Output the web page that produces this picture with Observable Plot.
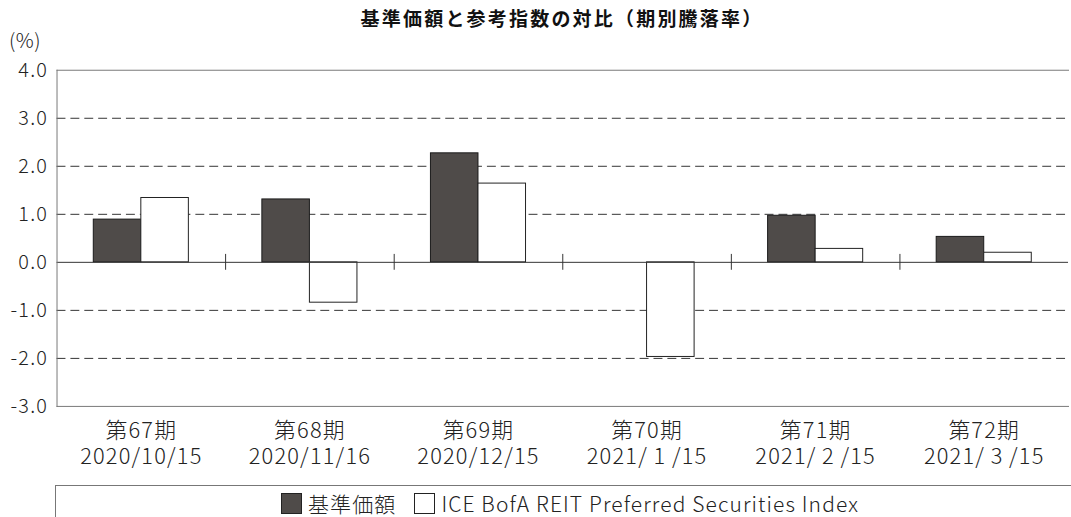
<!DOCTYPE html>
<html>
<head>
<meta charset="utf-8">
<script src="https://cdn.jsdelivr.net/npm/d3@7"></script>
<script src="https://cdn.jsdelivr.net/npm/@observablehq/plot@0.6"></script>
<style>
  html, body { margin: 0; padding: 0; overflow: hidden; background: #fff; }
  body { width: 1071px; height: 517px; position: relative; font-family: "Noto Sans CJK JP", "Noto Sans", sans-serif; color: #222; }
  #title { position: absolute; left: 0; top: 5px; width: 1124px; text-align: center; font-size: 19px; font-weight: bold; letter-spacing: 2.2px; line-height: 26px; color: #111; z-index: 2; }
  #unit { position: absolute; left: 9px; top: 27px; font-size: 20px; line-height: 26px; letter-spacing: 0.5px; z-index: 2; font-weight: 300; }
  #chart { position: absolute; left: 0; top: 40px; z-index: 1; }
  #chart svg { background: transparent !important; }
  #chart g[aria-label="text"] text { letter-spacing: 1.2px; font-weight: 300; }
  #chart g[aria-label="y-axis tick label"] text { letter-spacing: 1.2px; font-weight: 300; }
  #legend { position: absolute; left: 55px; top: 485px; width: 1030px; height: 50px; border: 1px solid #777; box-sizing: border-box; display: flex; justify-content: center; padding-top: 4px; font-size: 21px; line-height: 26px; letter-spacing: 1.1px; font-weight: 300; }
  .item { display: flex; align-items: center; height: 26px; }
  .sw { width: 21px; height: 21px; border: 1px solid #222; margin-right: 6px; box-sizing: border-box; }
</style>
</head>
<body>
<div id="title">基準価額と参考指数の対比（期別騰落率）</div>
<div id="unit">(%)</div>
<div id="chart"></div>
<div id="legend"></div>
<script>
const periods = ["第67期", "第68期", "第69期", "第70期", "第71期", "第72期"];
const dates = ["2020/10/15", "2020/11/16", "2020/12/15", "2021/\u20091\u2009/15", "2021/\u20092\u2009/15", "2021/\u20093\u2009/15"];
const fundReturns = [0.89, 1.31, 2.27, 0.00, 0.97, 0.53];
const indexReturns = [1.34, -0.84, 1.64, -1.97, 0.28, 0.20];
const yTicks = [-3, -2, -1, 0, 1, 2, 3, 4];
const gridValues = [-2, -1, 1, 2, 3];
const seriesNames = ["基準価額", "ICE BofA REIT Preferred Securities Index"];
const seriesColors = ["#4f4b49", "#ffffff"];

const width = 1080, marginLeft = 57, marginRight = 3;
const band = (width - marginLeft - marginRight) / periods.length;
const barW = band * 0.282;
const outer = band / 2 - barW;

const fundData = periods.map((p, i) => ({period: p, value: fundReturns[i]}));
const indexData = periods.map((p, i) => ({period: p, value: indexReturns[i]}));
const labelData = periods.map((p, i) => ({period: p, label: p + "\n" + dates[i]}));

const chart = Plot.plot({
  width,
  height: 438,
  marginLeft,
  marginRight,
  marginTop: 30,
  marginBottom: 69,
  style: {fontFamily: '"Noto Sans CJK JP", "Noto Sans", sans-serif', color: "#222", background: "transparent"},
  x: {domain: periods, padding: 0, axis: null},
  y: {domain: [-3, 4], axis: null},
  marks: [
    Plot.ruleY(gridValues, {stroke: "#333", strokeWidth: 1, strokeDasharray: "9,5"}),
    Plot.barY(fundData, {x: "period", y: "value", fill: seriesColors[0], stroke: "#1a1a1a", strokeWidth: 1, insetLeft: outer, insetRight: band / 2}),
    Plot.barY(indexData, {x: "period", y: "value", fill: seriesColors[1], stroke: "#222", strokeWidth: 1, insetLeft: band / 2, insetRight: outer}),
    Plot.ruleY([0], {stroke: "#333", strokeWidth: 1}),
    Plot.ruleX(periods.slice(1), {x: d => d, y1: 0, y2: 0, insetTop: -8, insetBottom: -8, dx: -band / 2, stroke: "#333"}),
    Plot.frame({anchor: "top", stroke: "#777"}),
    Plot.frame({anchor: "bottom", stroke: "#777"}),
    Plot.frame({anchor: "left", stroke: "#777"}),
    Plot.axisY(yTicks, {label: null, tickSize: 0, tickPadding: 9, fontSize: 20, tickFormat: d => d.toFixed(1), fill: "#222"}),
    Plot.text(labelData, {x: "period", text: "label", frameAnchor: "bottom", lineAnchor: "top", dy: 13, lineHeight: 1.2, fontSize: 22, fill: "#222"})
  ]
});
document.getElementById("chart").appendChild(chart);

const legend = document.getElementById("legend");
seriesNames.forEach((name, i) => {
  const item = document.createElement("div");
  item.className = "item";
  if (i > 0) item.style.marginLeft = "18px";
  const sw = document.createElement("div");
  sw.className = "sw";
  sw.style.background = seriesColors[i];
  const t = document.createElement("span");
  t.textContent = name;
  item.appendChild(sw);
  item.appendChild(t);
  legend.appendChild(item);
});
</script>
</body>
</html>
